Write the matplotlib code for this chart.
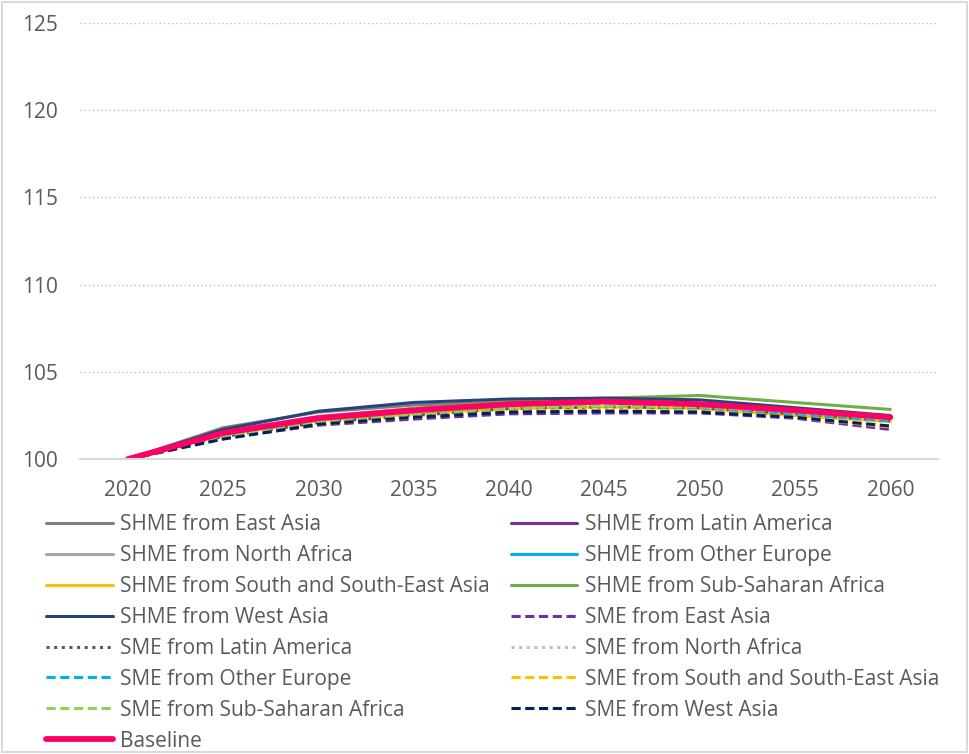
import matplotlib.pyplot as plt
from matplotlib.patches import Rectangle

years = [2020, 2025, 2030, 2035, 2040, 2045, 2050, 2055, 2060]

shme_east_asia = [100, 101.8, 102.7, 103.1, 103.3, 103.35, 103.2, 102.85, 102.45]
shme_latin_america = [100, 101.5, 102.35, 102.8, 103.15, 103.3, 103.15, 102.8, 102.4]
shme_north_africa = [100, 101.6, 102.45, 102.9, 103.2, 103.3, 103.1, 102.7, 102.3]
shme_other_europe = [100, 101.5, 102.4, 102.85, 103.2, 103.35, 103.2, 102.85, 102.4]
shme_south_se_asia = [100, 101.4, 102.2, 102.6, 102.9, 103.0, 102.9, 102.5, 102.15]
shme_sub_saharan = [100, 101.5, 102.4, 102.9, 103.3, 103.5, 103.65, 103.25, 102.85]
shme_west_asia = [100, 101.7, 102.75, 103.25, 103.45, 103.5, 103.4, 102.95, 102.5]
sme_east_asia = [100, 101.2, 101.95, 102.3, 102.6, 102.65, 102.65, 102.35, 101.7]
sme_latin_america = [100, 101.3, 102.1, 102.5, 102.9, 103.0, 102.95, 102.6, 102.2]
sme_north_africa = [100, 101.4, 102.3, 102.9, 103.15, 103.25, 103.1, 102.75, 102.35]
sme_other_europe = [100, 101.3, 102.15, 102.6, 102.95, 103.05, 102.95, 102.6, 102.2]
sme_south_se_asia = [100, 101.2, 102.0, 102.4, 102.75, 102.8, 102.75, 102.4, 101.85]
sme_sub_saharan = [100, 101.3, 102.15, 102.6, 102.95, 103.05, 103.0, 102.7, 102.3]
sme_west_asia = [100, 101.15, 102.0, 102.4, 102.7, 102.75, 102.7, 102.4, 101.9]
baseline = [100, 101.5, 102.35, 102.8, 103.15, 103.3, 103.15, 102.8, 102.4]

# (label, values, colour, linestyle, width)
series = [
    ("SHME from East Asia", shme_east_asia, "#7f7f7f", "-", 2.2),
    ("SHME from Latin America", shme_latin_america, "#7030a0", "-", 2.2),
    ("SHME from North Africa", shme_north_africa, "#a5a5a5", "-", 2.2),
    ("SHME from Other Europe", shme_other_europe, "#00b0f0", "-", 2.2),
    ("SHME from South and South-East Asia", shme_south_se_asia, "#ffc000", "-", 2.2),
    ("SHME from Sub-Saharan Africa", shme_sub_saharan, "#70ad47", "-", 2.2),
    ("SHME from West Asia", shme_west_asia, "#264478", "-", 2.2),
    ("SME from East Asia", sme_east_asia, "#7030a0", (0, (3, 1.5)), 2.2),
    ("SME from Latin America", sme_latin_america, "#595959", (0, (1, 1.5)), 2.2),
    ("SME from North Africa", sme_north_africa, "#bfbfbf", (0, (1, 1.5)), 2.2),
    ("SME from Other Europe", sme_other_europe, "#00b0f0", (0, (3, 1.5)), 2.2),
    ("SME from South and South-East Asia", sme_south_se_asia, "#ffc000", (0, (3, 1.5)), 2.2),
    ("SME from Sub-Saharan Africa", sme_sub_saharan, "#92d050", (0, (3, 1.5)), 2.2),
    ("SME from West Asia", sme_west_asia, "#002060", (0, (3, 1.5)), 2.2),
    ("Baseline", baseline, "#ff0066", "-", 4.2),
]

plt.rcParams["font.family"] = ["Open Sans", "DejaVu Sans"]
text_color = "#595959"

fig = plt.figure(figsize=(9.69, 7.54), dpi=100)
ax = fig.add_axes([0.0826, 0.391, 0.8854, 0.5785])

handles = []
for label, values, color, ls, lw in series:
    (line,) = ax.plot(years, values, color=color, linestyle=ls, linewidth=lw,
                      label=label, solid_capstyle="round")
    handles.append(line)

ax.set_xlim(2017.5, 2062.5)
ax.set_ylim(100, 125)
ax.set_xticks(years)
ax.set_yticks([100, 105, 110, 115, 120, 125])
ax.tick_params(length=0, labelsize=15, labelcolor=text_color)
ax.tick_params(axis="x", pad=15)
ax.tick_params(axis="y", pad=16)
ax.grid(axis="y", color="#bfbfbf", linestyle=(0, (1, 2)), linewidth=1)
for side in ["top", "right", "left"]:
    ax.spines[side].set_visible(False)
ax.spines["bottom"].set_color("#d9d9d9")
ax.spines["bottom"].set_linewidth(1.5)
ax.set_axisbelow(True)

# Excel fills the legend row by row, matplotlib column by column
order = list(range(0, 15, 2)) + list(range(1, 15, 2))
fig.legend([handles[i] for i in order], [series[i][0] for i in order],
           ncol=2, loc="upper left", bbox_to_anchor=(0.039, 0.329),
           frameon=False, fontsize=15, labelcolor=text_color,
           handlelength=3.2, handletextpad=0.35, columnspacing=1.0,
           labelspacing=0.475, borderaxespad=0)

fig.patches.append(Rectangle((0.002, 0.002), 0.996, 0.996, transform=fig.transFigure,
                             fill=False, edgecolor="#d9d9d9", linewidth=1.5))

fig.savefig("out.png", dpi=100, facecolor="white")
